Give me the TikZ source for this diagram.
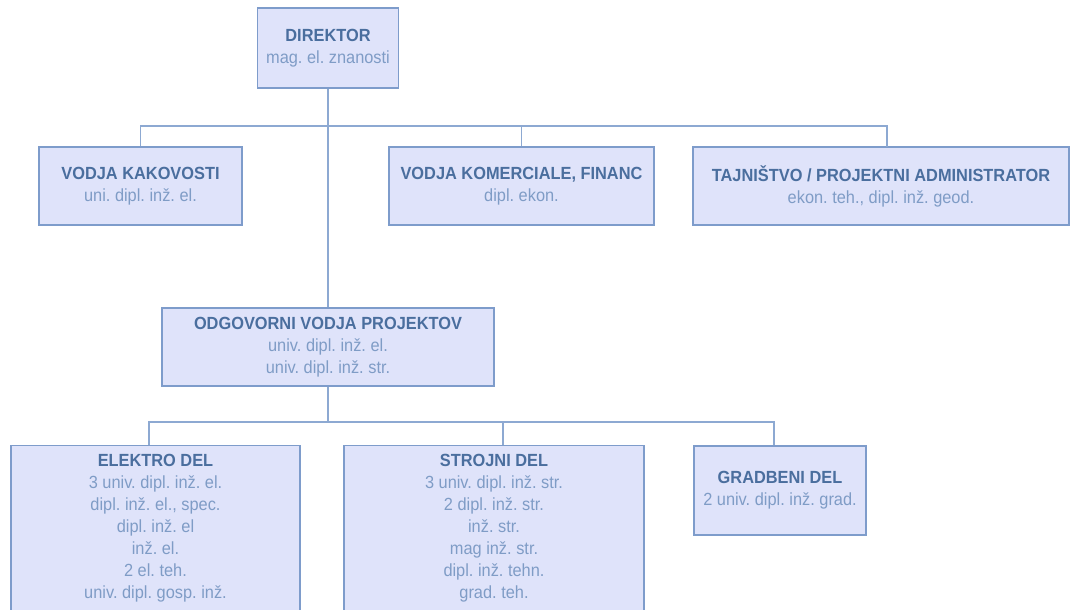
\documentclass[tikz,border=0pt]{standalone}
\usepackage{fontspec}
\setmainfont[FakeStretch=0.93]{Liberation Sans}
\usepackage{xcolor}
\usepackage{tikz}
\usetikzlibrary{calc}
\definecolor{tsFill}{HTML}{DFE3FA}
\definecolor{tsBorder}{HTML}{7E9CCB}
\definecolor{tsLine}{HTML}{8DA9D2}
\definecolor{tsTitle}{HTML}{4A6E9E}
\definecolor{tsSub}{HTML}{7F9CC6}
\frenchspacing
\tikzstyle{tsText} = [
    text=tsSub,
    font=\fontsize{17.6}{22}\selectfont,
    align=center
]
\tikzstyle{tsRectangle} = [
    rectangle,
    tsText,
    draw=tsBorder,
    fill=tsFill,
    line width=1.3pt,
    inner sep=0pt,
    minimum height=78pt]
\tikzstyle{tsLink} = [
    draw=tsLine,
    line width=1.5pt]

\begin{document}
\begin{tikzpicture}[x=1pt, y=-1pt]

        \useasboundingbox (0,0) rectangle (1079,610);
        \clip (0,0) rectangle (1079,610);

        % top
        \node[tsRectangle, minimum width=141pt, minimum height=80pt] (dir) at (328,48)
            {\textcolor{tsTitle}{\textbf{DIREKTOR}}\\mag. el. znanosti};

        \node[tsRectangle, minimum width=203pt] (vk) at (140.5,186)
            {\textcolor{tsTitle}{\textbf{VODJA KAKOVOSTI}}\\uni. dipl. inž. el.};
        \node[tsRectangle, minimum width=265pt] (vkf) at (521.5,186)
            {\textcolor{tsTitle}{\textbf{VODJA KOMERCIALE, FINANC}}\\dipl. ekon.};
        \node[tsRectangle, minimum width=376pt] (taj) at (881,186)
            {\textcolor{tsTitle}{\textbf{TAJNIŠTVO / PROJEKTNI ADMINISTRATOR}}\\ekon. teh., dipl. inž. geod.};

        \node[tsRectangle, minimum width=332pt] (odg) at (328,347)
            {\textcolor{tsTitle}{\textbf{ODGOVORNI VODJA PROJEKTOV}}\\univ. dipl. inž. el.\\univ. dipl. inž. str.};

        % bottom
        \node[tsRectangle, minimum width=289pt, minimum height=166pt] (elek) at (155.5,528.5)
            {\textcolor{tsTitle}{\textbf{ELEKTRO DEL}}\\3 univ. dipl. inž. el.\\dipl. inž. el., spec.\\dipl. inž. el\\inž. el.\\2 el. teh.\\univ. dipl. gosp. inž.};
        \node[tsRectangle, minimum width=300pt, minimum height=166pt] (stroj) at (494,528.5)
            {\textcolor{tsTitle}{\textbf{STROJNI DEL}}\\3 univ. dipl. inž. str.\\2 dipl. inž. str.\\inž. str.\\mag inž. str.\\dipl. inž. tehn.\\grad. teh.};
        \node[tsRectangle, minimum width=172pt, minimum height=89pt] (grad) at (780,490.5)
            {\textcolor{tsTitle}{\textbf{GRADBENI DEL}}\\2 univ. dipl. inž. grad.};

        \coordinate (barA) at (0,126);
        \coordinate (barB) at (0,422);
        \coordinate (tajtop) at (887,147);
        \coordinate (strojtop) at (503,445);

        \draw[tsLink] (dir.south) -- (odg.north);
        \draw[tsLink] (vk.north) -- (vk.north |- barA) -- (tajtop |- barA) -- (tajtop);
        \draw[tsLink] (vkf.north) -- (vkf.north |- barA);

        \draw[tsLink] (odg.south) -- (odg.south |- barB);
        \draw[tsLink] ($(elek.north)+(-6.5,0)$) -- ($(elek.north |- barB)+(-6.5,0)$) -- ($(grad.north |- barB)+(-6,0)$) -- ($(grad.north)+(-6,0)$);
        \draw[tsLink] (strojtop) -- (strojtop |- barB);

\end{tikzpicture}
\end{document}
